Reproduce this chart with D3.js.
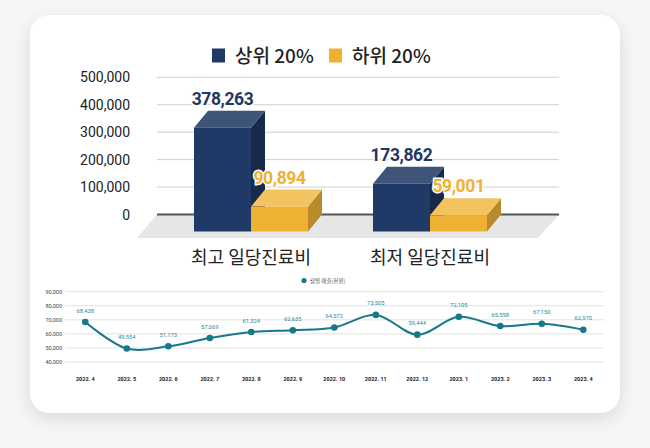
<!DOCTYPE html>
<html><head><meta charset="utf-8">
<script src="https://cdn.jsdelivr.net/npm/d3@7"></script>
<style>
html,body{margin:0;padding:0;background:#f6f6f6;}
svg{display:block;}
</style></head>
<body>
<svg id="c" width="650" height="448"></svg>
<script>
// ---- data ----
const barCategories = ["최고 일당진료비", "최저 일당진료비"];
const barSeries = ["상위 20%", "하위 20%"];
const topValues = [378263, 173862];
const bottomValues = [90894, 59001];
const barTicks = [0, 100000, 200000, 300000, 400000, 500000];

const months = ["2022. 4","2022. 5","2022. 6","2022. 7","2022. 8","2022. 9","2022. 10","2022. 11","2022. 12","2023. 1","2023. 2","2023. 3","2023. 4"];
const monthlySales = [68438, 49554, 51173, 57069, 61324, 62635, 64572, 73505, 59444, 72105, 65558, 67150, 62970];
const lineTicks = [40000, 50000, 60000, 70000, 80000, 90000];
const lineSeriesName = "월별 매출(천원)";

const svg = d3.select("#c");
const fmt = d3.format(",");
const KR = "'Noto Sans CJK KR','Noto Sans',sans-serif";
const NUM = "Roboto,'Noto Sans',sans-serif";

// ---- card ----
const defs = svg.append("defs");
const f = defs.append("filter").attr("id","sh").attr("x","-10%").attr("y","-10%").attr("width","120%").attr("height","125%");
f.append("feGaussianBlur").attr("in","SourceAlpha").attr("stdDeviation",9);
f.append("feOffset").attr("dx",0).attr("dy",6).attr("result","b");
f.append("feComponentTransfer").append("feFuncA").attr("type","linear").attr("slope",0.12);
const m = f.append("feMerge"); m.append("feMergeNode"); m.append("feMergeNode").attr("in","SourceGraphic");
svg.append("rect").attr("x",30).attr("y",15).attr("width",590).attr("height",398).attr("rx",20)
  .attr("fill","#fff").attr("filter","url(#sh)");

// ---- 3D bar chart ----
const y = d3.scaleLinear().domain([0,500000]).range([214.5,77.3]);
const x0 = d3.scaleBand().domain(barCategories).range([194,487]).paddingInner(0.363).paddingOuter(0);
const x1 = d3.scaleBand().domain(barSeries).range([0,x0.bandwidth()]);
const DX = 14, DY = 17; // depth (back face offset from front)
const gridL = 157, gridR = 559;

const colors = {
  "상위 20%": {front:"#1f3a66", top:"#3e5478", side:"#172a4a", text:"#1f3864"},
  "하위 20%": {front:"#efb132", top:"#f3c35f", side:"#b78a2b", text:"#efb132"}
};

const gBar = svg.append("g");
// floor
gBar.append("path").attr("d",`M${gridL},${y(0)}L${gridR},${y(0)}L${gridR-21},${y(0)+23.5}L${gridL-20},${y(0)+23.5}Z`)
  .attr("fill","#e6e6e6");
// grid
gBar.selectAll("line.g").data(barTicks.filter(d=>d>0)).join("line")
  .attr("x1",gridL).attr("x2",gridR).attr("y1",d=>y(d)).attr("y2",d=>y(d))
  .attr("stroke","#cfcfcf").attr("stroke-width",1);
gBar.append("line").attr("x1",gridL).attr("x2",gridR).attr("y1",y(0)).attr("y2",y(0))
  .attr("stroke","#555").attr("stroke-width",2);
// tick labels
gBar.selectAll("text.t").data(barTicks).join("text")
  .attr("x",130).attr("y",d=>y(d)+5).attr("text-anchor","end")
  .attr("font-family",NUM).attr("font-size",14).attr("fill","#222").text(fmt);

const barData = [];
barCategories.forEach((c,i)=>{
  barData.push({cat:c, s:barSeries[0], v:topValues[i]});
  barData.push({cat:c, s:barSeries[1], v:bottomValues[i]});
});
const bars = gBar.selectAll("g.bar").data(barData).join("g");
bars.each(function(d){
  const g = d3.select(this);
  const xl = x0(d.cat)+x1(d.s), xr = xl + x1.bandwidth();
  const yt = y(d.v)+DY, yb = y(0)+DY;
  const c = colors[d.s];
  g.append("path").attr("d",`M${xr},${yt}L${xr+DX},${yt-DY}L${xr+DX},${yb-DY}L${xr},${yb}Z`).attr("fill",c.side);
  g.append("path").attr("d",`M${xl},${yt}L${xl+DX},${yt-DY}L${xr+DX},${yt-DY}L${xr},${yt}Z`).attr("fill",c.top);
  g.append("rect").attr("x",xl).attr("y",yt).attr("width",xr-xl).attr("height",yb-yt).attr("fill",c.front);
  g.append("text").attr("x",(xl+xr)/2).attr("y",y(d.v)-6).attr("text-anchor","middle")
    .attr("font-family",NUM).attr("font-weight",700).attr("font-size",17.5).attr("letter-spacing",-0.4)
    .attr("fill",c.text).attr("stroke","#fff").attr("stroke-width",3).attr("paint-order","stroke")
    .text(fmt(d.v));
});
// category labels
gBar.selectAll("text.cat").data(barCategories).join("text")
  .attr("x",d=>x0(d)+x0.bandwidth()/2).attr("y",264).attr("text-anchor","middle")
  .attr("font-family",KR).attr("font-size",18).attr("fill","#222").text(d=>d);
// legend
const legX = [212, 329];
barSeries.forEach((s,i)=>{
  svg.append("rect").attr("x",legX[i]).attr("y",48.5).attr("width",13).attr("height",14).attr("fill",colors[s].front);
  svg.append("text").attr("x",legX[i]+23).attr("y",63).attr("font-family",KR).attr("font-weight",500)
    .attr("font-size",19).attr("fill","#222").text(s);
});

// ---- line chart ----
const lx = d3.scalePoint().domain(months).range([85.3,583.3]);
const ly = d3.scaleLinear().domain([40000,90000]).range([362,291.7]);
const teal = "#17788a";
const gL = svg.append("g");
gL.selectAll("line.g").data(lineTicks).join("line")
  .attr("x1",65).attr("x2",604).attr("y1",d=>ly(d)).attr("y2",d=>ly(d))
  .attr("stroke","#e2e2e2").attr("stroke-width",1);
gL.selectAll("text.t").data(lineTicks).join("text")
  .attr("x",62).attr("y",d=>ly(d)+2).attr("text-anchor","end")
  .attr("font-family",NUM).attr("font-size",5.5).attr("fill","#444").text(fmt);
gL.selectAll("text.x").data(months).join("text")
  .attr("x",d=>lx(d)).attr("y",381).attr("text-anchor","middle")
  .attr("font-family",NUM).attr("font-weight",700).attr("font-size",5.5).attr("fill","#222").text(d=>d);
const pts = months.map((mth,i)=>({m:mth, v:monthlySales[i]}));
gL.append("path").datum(pts)
  .attr("d",d3.line().x(d=>lx(d.m)).y(d=>ly(d.v)).curve(d3.curveCatmullRom.alpha(0.5)))
  .attr("fill","none").attr("stroke",teal).attr("stroke-width",2);
gL.selectAll("circle.p").data(pts).join("circle")
  .attr("cx",d=>lx(d.m)).attr("cy",d=>ly(d.v)).attr("r",3.3).attr("fill",teal);
gL.selectAll("text.v").data(pts).join("text")
  .attr("x",d=>lx(d.m)).attr("y",d=>ly(d.v)-9.5).attr("text-anchor","middle")
  .attr("font-family",NUM).attr("font-size",5.8).attr("fill","#2a8a9a").text(d=>fmt(d.v));
gL.append("circle").attr("cx",304).attr("cy",280.5).attr("r",2.6).attr("fill",teal);
gL.append("text").attr("x",310).attr("y",282.5).attr("font-family",KR).attr("font-size",5.5)
  .attr("fill","#555").text(lineSeriesName);
</script>
</body></html>
